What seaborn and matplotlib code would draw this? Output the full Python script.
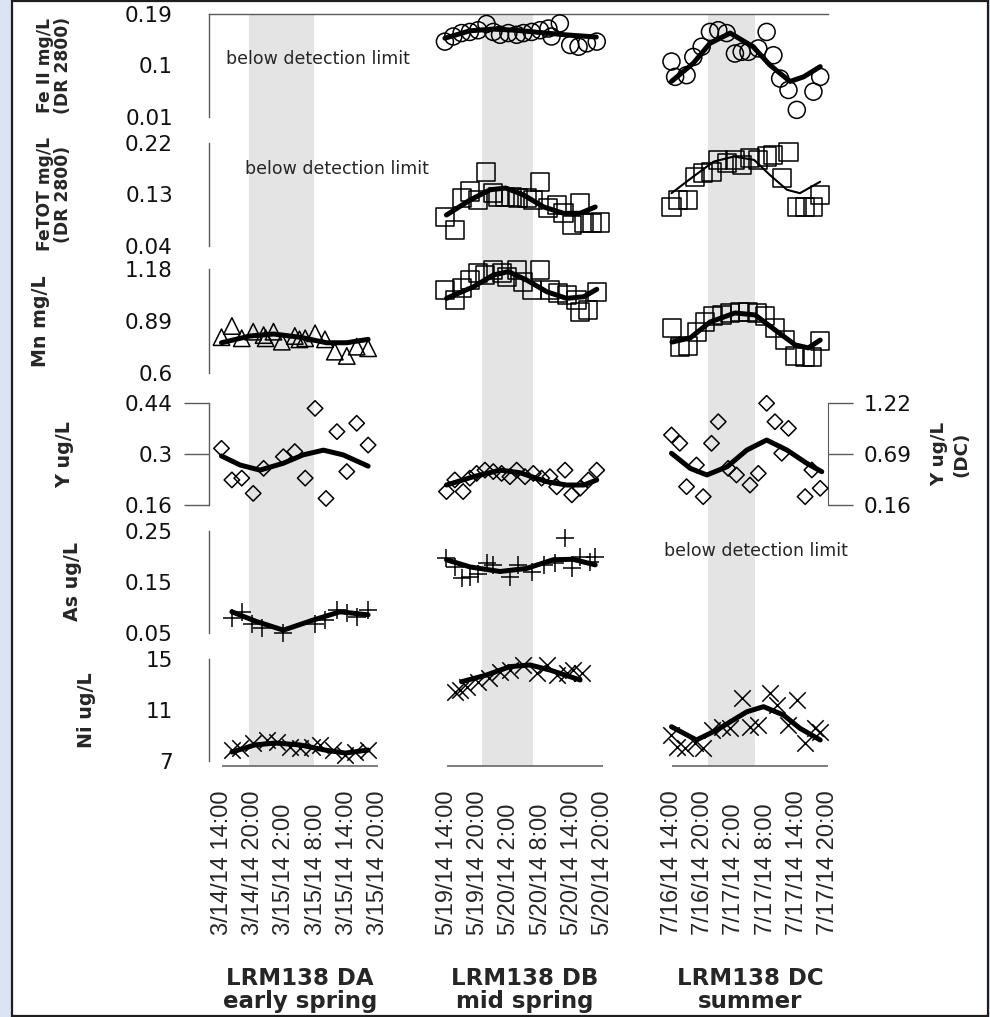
import matplotlib
matplotlib.use("Agg")
import matplotlib.pyplot as plt
import matplotlib.transforms as mtransforms
from matplotlib.patches import Rectangle
import seaborn as sns

# ---------------- data ----------------
sites = ["LRM138 DA", "LRM138 DB", "LRM138 DC"]
seasons = ["early spring", "mid spring", "summer"]
tick_hours = [0, 6, 12, 18, 24, 30]
ticks_da = ["3/14/14 14:00", "3/14/14 20:00", "3/15/14 2:00", "3/15/14 8:00", "3/15/14 14:00", "3/15/14 20:00"]
ticks_db = ["5/19/14 14:00", "5/19/14 20:00", "5/20/14 2:00", "5/20/14 8:00", "5/20/14 14:00", "5/20/14 20:00"]
ticks_dc = ["7/16/14 14:00", "7/16/14 20:00", "7/17/14 2:00", "7/17/14 8:00", "7/17/14 14:00", "7/17/14 20:00"]
night_start = [5.2, 6.7, 6.9]   # hours after first tick
night_end = [17.7, 16.6, 16.0]

row_labels = [["Fe II mg/L", "(DR 2800)"], ["FeTOT mg/L", "(DR 2800)"], ["Mn mg/L"],
              ["Y ug/L"], ["As ug/L"], ["Ni ug/L"]]
row_ticks = [[0.01, 0.1, 0.19], [0.04, 0.13, 0.22], [0.6, 0.89, 1.18],
             [0.16, 0.3, 0.44], [0.05, 0.15, 0.25], [7, 11, 15]]
row_ticklabels = [["0.01", "0.1", "0.19"], ["0.04", "0.13", "0.22"], ["0.6", "0.89", "1.18"],
                  ["0.16", "0.3", "0.44"], ["0.05", "0.15", "0.25"], ["7", "11", "15"]]
y_dc_ticks = [0.16, 0.69, 1.22]
y_dc_ticklabels = ["0.16", "0.69", "1.22"]

# Fe II
fe2_db_t = [-0.4, 1.2, 2.8, 4.4, 6.0, 7.6, 8.9, 10.2, 11.8, 13.4, 14.7, 16.3, 17.9, 19.5, 20.1, 21.7, 23.7, 25.3, 26.9, 28.8]
fe2_db_v = [0.142, 0.151, 0.157, 0.159, 0.162, 0.173, 0.159, 0.154, 0.157, 0.154, 0.157, 0.159, 0.162, 0.165, 0.151, 0.174, 0.136, 0.133, 0.139, 0.142]
fe2_db_fit_t = [-0.4, 4.4, 8.9, 13.1, 17.9, 22.7, 28.7]
fe2_db_fit_v = [0.148, 0.161, 0.164, 0.162, 0.158, 0.154, 0.150]
fe2_dc_t = [-0.1, 0.6, 2.8, 4.1, 5.7, 7.3, 8.9, 10.5, 12.1, 13.4, 14.7, 16.6, 18.2, 19.5, 20.8, 22.4, 24.0, 27.2, 28.5]
fe2_dc_v = [0.107, 0.080, 0.083, 0.115, 0.133, 0.159, 0.162, 0.157, 0.121, 0.124, 0.124, 0.130, 0.159, 0.118, 0.077, 0.057, 0.022, 0.054, 0.080]
fe2_dc_fit_t = [-0.1, 4.1, 7.3, 11.2, 15.6, 18.8, 22.7, 25.3, 28.5]
fe2_dc_fit_v = [0.072, 0.104, 0.139, 0.157, 0.133, 0.101, 0.072, 0.080, 0.098]

# Fe total
fet_db_t = [-0.4, 1.5, 2.8, 4.4, 6.0, 7.5, 8.9, 9.9, 11.2, 12.4, 13.7, 15.3, 16.6, 17.9, 19.5, 21.1, 22.4, 24.0, 25.6, 26.3, 27.8, 29.4]
fet_db_v = [0.091, 0.068, 0.123, 0.135, 0.120, 0.169, 0.132, 0.126, 0.126, 0.126, 0.123, 0.123, 0.120, 0.152, 0.106, 0.111, 0.097, 0.077, 0.114, 0.080, 0.080, 0.081]
fet_db_fit_t = [-0.1, 4.4, 8.3, 11.3, 14.7, 18.6, 22.4, 25.6, 28.5]
fet_db_fit_v = [0.094, 0.120, 0.138, 0.141, 0.129, 0.108, 0.097, 0.097, 0.108]
fet_dc_t = [-0.1, 1.2, 3.1, 4.4, 6.0, 7.6, 8.9, 10.5, 12.1, 13.4, 15.0, 16.6, 18.2, 19.5, 21.1, 22.4, 24.0, 25.6, 27.2, 28.5]
fet_dc_v = [0.108, 0.120, 0.120, 0.161, 0.167, 0.169, 0.190, 0.184, 0.190, 0.181, 0.193, 0.190, 0.196, 0.199, 0.158, 0.204, 0.108, 0.108, 0.108, 0.129]
fet_dc_fit_t = [-0.1, 4.1, 8.0, 11.9, 15.8, 18.8, 22.1, 24.6, 28.5]
fet_dc_fit_v = [0.132, 0.161, 0.187, 0.196, 0.190, 0.164, 0.138, 0.132, 0.152]

# Mn
mn_da_t = [-0.1, 1.9, 3.8, 6.0, 8.0, 8.4, 9.9, 11.5, 14.0, 14.9, 16.0, 17.9, 19.8, 21.7, 24.0, 25.9, 28.1]
mn_da_v = [0.799, 0.862, 0.793, 0.830, 0.811, 0.793, 0.830, 0.774, 0.806, 0.787, 0.793, 0.821, 0.787, 0.718, 0.694, 0.746, 0.737]
mn_da_fit_t = [-0.1, 5.4, 9.9, 15.0, 20.1, 24.0, 28.1]
mn_da_fit_v = [0.768, 0.806, 0.817, 0.799, 0.768, 0.768, 0.787]
mn_db_t = [-0.4, 1.5, 2.8, 4.4, 6.0, 7.3, 8.9, 10.5, 11.5, 13.4, 14.7, 16.3, 17.9, 19.8, 21.4, 23.0, 24.9, 25.6, 27.2, 28.8]
mn_db_v = [1.064, 1.008, 1.073, 1.120, 1.158, 1.148, 1.176, 1.158, 1.138, 1.176, 1.110, 1.064, 1.176, 1.064, 1.045, 1.036, 1.008, 0.942, 0.952, 1.054]
mn_db_fit_t = [-0.1, 5.1, 8.9, 11.8, 15.3, 19.2, 23.0, 26.3, 28.8]
mn_db_fit_v = [1.017, 1.082, 1.148, 1.167, 1.120, 1.054, 1.017, 1.026, 1.068]
mn_dc_t = [0.0, 1.5, 3.1, 4.8, 6.3, 7.9, 9.6, 11.2, 13.1, 14.6, 16.3, 17.9, 19.8, 21.7, 23.7, 25.6, 26.9, 28.5]
mn_dc_v = [0.851, 0.744, 0.750, 0.828, 0.884, 0.918, 0.924, 0.935, 0.940, 0.940, 0.935, 0.918, 0.851, 0.783, 0.694, 0.688, 0.688, 0.778]
mn_dc_fit_t = [0.0, 3.5, 7.3, 12.1, 16.0, 19.8, 23.7, 26.2, 28.5]
mn_dc_fit_v = [0.772, 0.795, 0.884, 0.935, 0.924, 0.840, 0.756, 0.739, 0.783]

# Y (DC on its own right-hand scale)
y_da_t = [-0.1, 1.9, 3.8, 6.0, 8.0, 11.8, 14.0, 16.0, 17.9, 20.0, 22.1, 24.0, 25.9, 28.1]
y_da_v = [0.316, 0.229, 0.234, 0.192, 0.261, 0.293, 0.307, 0.234, 0.426, 0.178, 0.362, 0.252, 0.385, 0.325]
y_da_fit_t = [-0.1, 3.5, 7.3, 11.8, 15.6, 19.5, 23.3, 28.1]
y_da_fit_v = [0.295, 0.270, 0.256, 0.275, 0.298, 0.311, 0.298, 0.267]
y_db_t = [-0.1, 1.5, 3.1, 4.4, 5.7, 7.3, 8.9, 10.5, 12.1, 13.4, 15.0, 16.6, 18.2, 19.8, 21.1, 22.7, 24.0, 25.6, 27.2, 28.8]
y_db_v = [0.197, 0.229, 0.197, 0.234, 0.247, 0.256, 0.252, 0.247, 0.238, 0.256, 0.238, 0.247, 0.234, 0.238, 0.210, 0.256, 0.188, 0.206, 0.229, 0.256]
y_db_fit_t = [-0.1, 5.1, 10.2, 14.0, 19.2, 23.0, 26.3, 28.8]
y_db_fit_v = [0.215, 0.238, 0.256, 0.249, 0.224, 0.215, 0.215, 0.229]
y_dc_t = [-0.1, 1.5, 2.8, 4.7, 6.0, 7.6, 8.9, 10.8, 12.4, 15.0, 16.6, 18.2, 19.8, 21.1, 22.4, 25.6, 26.9, 28.5]
y_dc_v = [0.890, 0.803, 0.351, 0.577, 0.247, 0.803, 1.028, 0.542, 0.473, 0.368, 0.490, 1.220, 1.028, 0.699, 0.959, 0.247, 0.525, 0.334]
y_dc_fit_t = [-0.1, 3.5, 6.7, 10.6, 14.4, 18.2, 22.1, 25.9, 28.8]
y_dc_fit_v = [0.699, 0.542, 0.473, 0.559, 0.733, 0.837, 0.733, 0.595, 0.507]

# As
as_da_t = [1.9, 3.8, 5.7, 7.6, 11.8, 17.9, 19.8, 22.1, 24.0, 25.9, 28.1]
as_da_v = [0.078, 0.091, 0.068, 0.059, 0.049, 0.068, 0.075, 0.094, 0.088, 0.081, 0.094]
as_da_fit_t = [1.9, 6.6, 11.8, 17.6, 22.7, 28.1]
as_da_fit_v = [0.091, 0.072, 0.055, 0.075, 0.091, 0.085]
as_db_t = [-0.1, 1.5, 2.8, 4.4, 6.0, 7.6, 8.9, 12.1, 13.7, 16.3, 18.6, 20.8, 22.7, 24.0, 25.6, 27.5, 28.5]
as_db_v = [0.196, 0.179, 0.157, 0.160, 0.166, 0.186, 0.183, 0.160, 0.183, 0.170, 0.183, 0.186, 0.235, 0.176, 0.199, 0.189, 0.199]
as_db_fit_t = [-0.1, 4.4, 10.2, 15.3, 20.4, 24.2, 28.5]
as_db_fit_v = [0.193, 0.179, 0.170, 0.176, 0.193, 0.194, 0.183]

# Ni
ni_da_t = [1.9, 3.5, 6.0, 8.6, 10.5, 13.1, 15.0, 17.3, 18.8, 21.3, 23.7, 25.6, 28.1]
ni_da_v = [7.84, 7.98, 8.37, 8.63, 8.50, 8.10, 7.98, 8.10, 8.20, 7.84, 7.45, 7.70, 7.84]
ni_da_fit_t = [1.9, 6.3, 10.2, 15.0, 19.8, 23.7, 28.1]
ni_da_fit_v = [7.68, 8.24, 8.39, 8.24, 7.84, 7.60, 7.84]
ni_db_t = [1.5, 2.5, 3.8, 6.0, 8.0, 10.2, 12.1, 14.7, 17.3, 19.2, 21.1, 23.0, 24.3, 25.9]
ni_db_v = [12.43, 12.56, 12.82, 13.21, 13.48, 14.00, 14.13, 14.53, 13.87, 14.53, 13.74, 13.87, 14.13, 13.87]
ni_db_fit_t = [2.8, 7.6, 12.1, 16.0, 19.8, 25.6]
ni_db_fit_v = [13.21, 13.74, 14.40, 14.53, 14.13, 13.35]
ni_dc_t = [-0.1, 0.9, 2.5, 4.4, 6.0, 7.6, 9.6, 11.2, 13.4, 15.0, 16.6, 18.8, 20.1, 22.4, 24.0, 25.6, 27.5, 28.5]
ni_dc_v = [9.02, 8.10, 7.98, 8.37, 7.98, 9.41, 9.67, 9.55, 11.91, 9.67, 9.81, 12.30, 11.38, 9.81, 11.77, 8.37, 9.55, 9.28]
ni_dc_fit_t = [-0.1, 4.7, 8.6, 14.4, 17.6, 21.4, 24.6, 28.5]
ni_dc_fit_v = [9.67, 8.63, 9.41, 10.85, 11.25, 10.60, 9.55, 8.63]

# ---------------- layout (pixels) ----------------
W, H = 990, 1017
PLOT_L, PLOT_R = 209, 828
TOP_Y, AXIS_Y = 14.3, 766
ROWS_PX = [(14.3, 116.7), (142.7, 246.0), (269.3, 372.7), (403.3, 505.0), (530.7, 632.7), (659.0, 760.7)]
COL_OFF = [0.0, 43.27, 86.54]
XLIM = (-2.5, 116.54)
GREY = "#5a5a5a"


def frac(l, t, r, b):
    return [l / W, 1 - b / H, (r - l) / W, (b - t) / H]


sns.set_style("white")
plt.rcParams["font.family"] = ["DejaVu Sans"]

fig = plt.figure(figsize=(W / 100, H / 100), dpi=100)
fig.patch.set_facecolor("#dbe4f3")
fig.add_artist(Rectangle((12 / W, 1 / H), 976 / W, 1015 / H, transform=fig.transFigure,
                         facecolor="white", edgecolor="#1e1e1e", lw=1.6, zorder=-5))

# background axes: night shading + time axis
axbg = fig.add_axes(frac(PLOT_L, TOP_Y, PLOT_R, AXIS_Y))
axbg.set_xlim(*XLIM)
axbg.set_ylim(0, 1)
axbg.patch.set_visible(False)
for s in axbg.spines.values():
    s.set_visible(False)
axbg.set_yticks([])
for c in range(3):
    axbg.axvspan(COL_OFF[c] + night_start[c], COL_OFF[c] + night_end[c], color="#e4e4e4", lw=0, zorder=0)
    axbg.hlines(0, COL_OFF[c] + tick_hours[0], COL_OFF[c] + tick_hours[-1], color=GREY, lw=1.1, clip_on=False)
axbg.set_xticks([COL_OFF[c] + h for c in range(3) for h in tick_hours])
axbg.tick_params(axis="x", direction="out", length=14.4, width=1.0, color=GREY, labelbottom=False)

blend = mtransforms.blended_transform_factory(axbg.transData, fig.transFigure)
for c, labels in enumerate([ticks_da, ticks_db, ticks_dc]):
    for h, lab in zip(tick_hours, labels):
        axbg.text(COL_OFF[c] + h, 1 - 935 / H, lab, transform=blend, rotation=90,
                  ha="center", va="bottom", fontsize=17, family="Liberation Sans")
    mid = COL_OFF[c] + (tick_hours[0] + tick_hours[-1]) / 2
    axbg.text(mid, 1 - 985 / H, sites[c], transform=blend, ha="center", va="baseline",
              fontsize=16.5, fontweight="bold")
    axbg.text(mid, 1 - 1008 / H, seasons[c], transform=blend, ha="center", va="baseline",
              fontsize=16.5, fontweight="bold")

# row axes
axes = []
label_x = [[45.5, 63.5], [45.5, 63.5], [40], [65], [72], [87]]
for i, (top, bot) in enumerate(ROWS_PX):
    ax = fig.add_axes(frac(PLOT_L, top, PLOT_R, bot))
    ax.patch.set_visible(False)
    ax.set_xlim(*XLIM)
    ax.set_ylim(row_ticks[i][0], row_ticks[i][-1])
    ax.set_xticks([])
    ax.set_yticks(row_ticks[i], row_ticklabels[i])
    for name, s in ax.spines.items():
        s.set_visible(name == "left" or (name == "top" and i == 0))
        s.set_color(GREY)
        s.set_linewidth(1.0)
    ax.tick_params(axis="y", direction="out", length=18, width=1.0, color=GREY,
                   labelsize=15.5, pad=8, labelcolor="#111111")
    axes.append(ax)
    cy = (top + bot) / 2
    fs = 12.3 if len(row_labels[i]) == 2 else 13.7
    for txt, x in zip(row_labels[i], label_x[i]):
        fig.text(x / W, 1 - cy / H, txt, rotation=90, ha="center", va="center",
                 fontsize=fs, fontweight="bold")

# right-hand axis for Y at DC
ax_ydc = axes[3].twinx()
ax_ydc.patch.set_visible(False)
ax_ydc.set_xlim(*XLIM)
ax_ydc.set_ylim(y_dc_ticks[0], y_dc_ticks[-1])
ax_ydc.set_yticks(y_dc_ticks, y_dc_ticklabels)
for name, s in ax_ydc.spines.items():
    s.set_visible(name == "right")
    s.set_color(GREY)
ax_ydc.tick_params(axis="y", direction="out", length=18, width=1.0, color=GREY,
                   labelsize=15.5, pad=8, labelcolor="#111111")
cy = sum(ROWS_PX[3]) / 2
for txt, x in zip(["Y ug/L", "(DC)"], [939, 961]):
    fig.text(x / W, 1 - cy / H, txt, rotation=90, ha="center", va="center",
             fontsize=13.2, fontweight="bold")

# notes
for x, y in [(317.5, 59), (336.5, 169), (756, 551)]:
    fig.text(x / W, 1 - y / H, "below detection limit", ha="center", va="center", fontsize=12.5)

msize = {"o": 150, "s": 170, "^": 140, "D": 62, "+": 170, "x": 140}

panels = [
    (1, fe2_db_t, fe2_db_v, fe2_db_fit_t, fe2_db_fit_v, axes[0], "o", 3.6),
    (2, fe2_dc_t, fe2_dc_v, fe2_dc_fit_t, fe2_dc_fit_v, axes[0], "o", 3.6),
    (1, fet_db_t, fet_db_v, fet_db_fit_t, fet_db_fit_v, axes[1], "s", 3.6),
    (2, fet_dc_t, fet_dc_v, fet_dc_fit_t, fet_dc_fit_v, axes[1], "s", 1.5),
    (0, mn_da_t, mn_da_v, mn_da_fit_t, mn_da_fit_v, axes[2], "^", 3.6),
    (1, mn_db_t, mn_db_v, mn_db_fit_t, mn_db_fit_v, axes[2], "s", 3.6),
    (2, mn_dc_t, mn_dc_v, mn_dc_fit_t, mn_dc_fit_v, axes[2], "s", 3.6),
    (0, y_da_t, y_da_v, y_da_fit_t, y_da_fit_v, axes[3], "D", 3.6),
    (1, y_db_t, y_db_v, y_db_fit_t, y_db_fit_v, axes[3], "D", 3.6),
    (2, y_dc_t, y_dc_v, y_dc_fit_t, y_dc_fit_v, ax_ydc, "D", 3.6),
    (0, as_da_t, as_da_v, as_da_fit_t, as_da_fit_v, axes[4], "+", 3.6),
    (1, as_db_t, as_db_v, as_db_fit_t, as_db_fit_v, axes[4], "+", 3.6),
    (0, ni_da_t, ni_da_v, ni_da_fit_t, ni_da_fit_v, axes[5], "x", 3.6),
    (1, ni_db_t, ni_db_v, ni_db_fit_t, ni_db_fit_v, axes[5], "x", 3.6),
    (2, ni_dc_t, ni_dc_v, ni_dc_fit_t, ni_dc_fit_v, axes[5], "x", 3.6),
]

for col, t, v, ft, fv, ax, m, lw in panels:
    x = [COL_OFF[col] + h for h in t]
    fx = [COL_OFF[col] + h for h in ft]
    if m in ("+", "x"):
        sns.scatterplot(x=x, y=v, ax=ax, marker=m, s=msize[m], color="black",
                        linewidth=1.1, clip_on=False, legend=False, zorder=3)
    else:
        sns.scatterplot(x=x, y=v, ax=ax, marker=m, s=msize[m], facecolor="none",
                        edgecolor="black", linewidth=1.1, clip_on=False, legend=False, zorder=3)
    sns.lineplot(x=fx, y=fv, ax=ax, color="black", linewidth=lw, estimator=None, sort=False,
                 solid_capstyle="round", solid_joinstyle="round", clip_on=False, zorder=4)
    ax.set_xlim(*XLIM)
    ax.set_xlabel("")
    ax.set_ylabel("")

fig.savefig("out.png", dpi=100, facecolor=fig.get_facecolor())
